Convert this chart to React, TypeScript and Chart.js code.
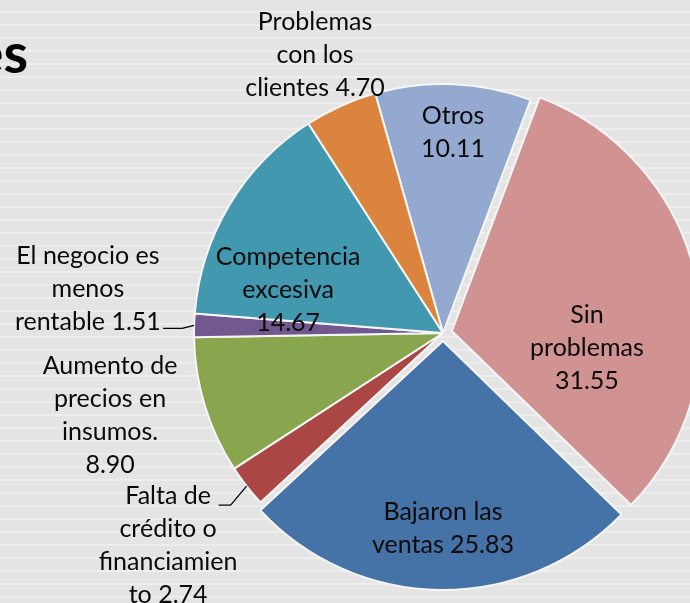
import React, { useEffect, useRef } from "react";
import { Chart, registerables } from "chart.js";

Chart.register(...registerables);

// ---- data ----
const categories = [
  "Otros",
  "Sin problemas",
  "Bajaron las ventas",
  "Falta de crédito o financiamiento",
  "Aumento de precios en insumos.",
  "El negocio es menos rentable",
  "Competencia excesiva",
  "Problemas con los clientes",
];
const values = [10.11, 31.55, 25.83, 2.74, 8.9, 1.51, 14.67, 4.7];
// wrapped label text (as shown in the chart) and whether value goes on its own line
const wrappedNames = [
  ["Otros"],
  ["Sin", "problemas"],
  ["Bajaron las", "ventas"],
  ["Falta de", "crédito o", "financiamien", "to"],
  ["Aumento de", "precios en", "insumos."],
  ["El negocio es", "menos", "rentable"],
  ["Competencia", "excesiva"],
  ["Problemas", "con los", "clientes"],
];
const valueOnOwnLine = [true, true, false, false, true, false, true, false];
const titleFragment = "es";

// ---- styles / layout ----
const colors = ["#93A9CF", "#D19392", "#4572A7", "#AA4643", "#89A54E", "#71588F", "#4198AF", "#DB843D"];
// Chart.js moves an arc by offset/4 px
const explodeOffsets = [0, 36, 32, 0, 0, 0, 0, 0];
// label block centres, in radius units relative to the pie centre
const labelPos: [number, number][] = [
  [0.04, -0.807],
  [0.578, 0.06],
  [0.0, 0.783],
  [-1.104, 0.853],
  [-1.337, 0.331],
  [-1.426, -0.177],
  [-0.622, -0.173],
  [-0.514, -1.116],
];
// leader lines: [elbow dx, elbow dy from slice edge, horizontal length]
const leaders: Record<number, [number, number, number]> = {
  3: [-16, 19, -12],
  5: [-12, 3, -19],
};
const FONT = "Lato, 'Noto Sans', sans-serif";
const FONT_SIZE = 25;
const LINE_H = 33;

function buildLines(i: number): string[] {
  const v = values[i].toFixed(2);
  const names = wrappedNames[i].slice();
  if (valueOnOwnLine[i]) names.push(v);
  else names[names.length - 1] = names[names.length - 1] + " " + v;
  return names;
}

const labelPlugin = {
  id: "pieLabels",
  afterDraw(chart: any) {
    const ctx = chart.ctx as CanvasRenderingContext2D;
    const meta = chart.getDatasetMeta(0);
    ctx.save();
    // title fragment
    ctx.fillStyle = "#000";
    ctx.font = `bold 56px ${FONT}`;
    ctx.textAlign = "right";
    ctx.textBaseline = "alphabetic";
    ctx.fillText(titleFragment, 28, 73);

    ctx.font = `${FONT_SIZE}px ${FONT}`;
    ctx.textAlign = "center";
    ctx.textBaseline = "middle";
    meta.data.forEach((arc: any, i: number) => {
      const p = arc.getProps(["x", "y", "startAngle", "endAngle", "outerRadius"], true);
      const R = p.outerRadius;
      const cx = p.x + labelPos[i][0] * R;
      const cy = p.y + labelPos[i][1] * R;
      const lines = buildLines(i);
      const y0 = cy - ((lines.length - 1) / 2) * LINE_H;
      ctx.fillStyle = "#0a0a0a";
      lines.forEach((t, k) => ctx.fillText(t, cx, y0 + k * LINE_H));
      const ld = leaders[i];
      if (ld) {
        const mid = (p.startAngle + p.endAngle) / 2;
        const ex = p.x + Math.cos(mid) * R;
        const ey = p.y + Math.sin(mid) * R;
        const bx = ex + ld[0];
        const by = ey + ld[1];
        ctx.strokeStyle = "#000";
        ctx.lineWidth = 1.3;
        ctx.beginPath();
        ctx.moveTo(ex, ey);
        ctx.lineTo(bx, by);
        ctx.lineTo(bx + ld[2], by);
        ctx.stroke();
      }
    });
    ctx.restore();
  },
};

export default function App() {
  const ref = useRef<HTMLCanvasElement>(null);
  useEffect(() => {
    const chart = new Chart(ref.current as HTMLCanvasElement, {
      type: "pie",
      data: {
        labels: categories,
        datasets: [
          {
            data: values,
            backgroundColor: colors,
            borderColor: "#f6f6f6",
            borderWidth: 2,
            offset: explodeOffsets,
            clip: false,
          } as any,
        ],
      },
      options: {
        animation: false,
        responsive: false,
        devicePixelRatio: 1,
        rotation: -15.8,
        radius: 249,
        layout: { padding: { left: 196, top: 63, right: 0, bottom: 0 } },
        plugins: {
          legend: { display: false },
          tooltip: { enabled: false },
          title: { display: false },
        },
      } as any,
      plugins: [labelPlugin],
    });
    return () => chart.destroy();
  }, []);
  return (
    <div
      style={{
        position: "absolute",
        left: 0,
        top: 0,
        width: 690,
        height: 603,
        overflow: "hidden",
        background: "repeating-linear-gradient(to bottom, #e4e4e4 0px, #e4e4e4 11px, #ededed 11px, #ededed 13px)",
      }}
    >
      <canvas ref={ref} width={690} height={603} style={{ display: "block" }} />
    </div>
  );
}
